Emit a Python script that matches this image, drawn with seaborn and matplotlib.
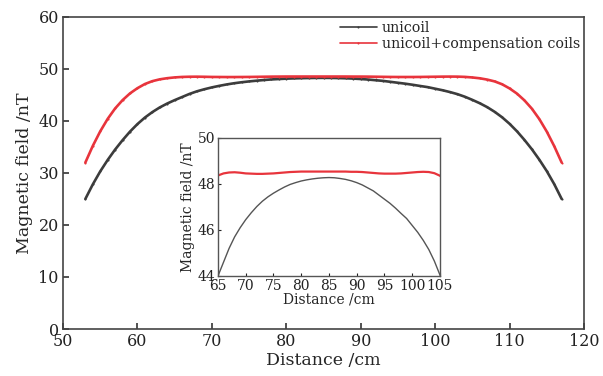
import numpy as np
import pandas as pd
import matplotlib
matplotlib.use("Agg")
import matplotlib.pyplot as plt
import seaborn as sns

# Data
distance = [53, 54, 55, 56, 57, 58, 59, 60, 61, 62, 63, 64, 65, 66, 67, 68, 69, 70,
            71, 72, 73, 74, 75, 76, 77, 78, 79, 80, 81, 82, 83, 84, 85,
            86, 87, 88, 89, 90, 91, 92, 93, 94, 95, 96, 97, 98, 99, 100,
            101, 102, 103, 104, 105, 106, 107, 108, 109, 110, 111, 112, 113, 114, 115, 116, 117]
unicoil = [25.0, 27.8, 30.3, 32.5, 34.5, 36.3, 37.95, 39.4, 40.65, 41.7, 42.6, 43.35, 44.0, 44.6, 45.2, 45.7, 46.1, 46.45,
           46.75, 47.02, 47.25, 47.44, 47.6, 47.74, 47.87, 47.98, 48.06, 48.13, 48.18, 48.22, 48.25, 48.27, 48.28,
           48.27, 48.24, 48.2, 48.14, 48.06, 47.96, 47.83, 47.7, 47.52, 47.34, 47.16, 46.95, 46.72, 46.5, 46.2,
           45.9, 45.55, 45.15, 44.65, 44.05, 43.4, 42.65, 41.75, 40.7, 39.45, 38.0, 36.35, 34.55, 32.55, 30.35, 27.85, 25.0]
compensated = [32.0, 35.2, 38.0, 40.4, 42.4, 44.0, 45.3, 46.3, 47.1, 47.65, 48.0, 48.22, 48.37, 48.46, 48.5, 48.51, 48.49, 48.46,
               48.45, 48.44, 48.44, 48.45, 48.46, 48.48, 48.5, 48.52, 48.53, 48.54, 48.54, 48.54, 48.54, 48.54, 48.54,
               48.54, 48.54, 48.54, 48.53, 48.53, 48.52, 48.5, 48.48, 48.46, 48.45, 48.45, 48.45, 48.46, 48.48, 48.5,
               48.52, 48.53, 48.52, 48.47, 48.36, 48.2, 47.95, 47.6, 47.05, 46.25, 45.25, 43.95, 42.35, 40.35, 37.95, 35.15, 32.0]
labels = ["unicoil", "unicoil+compensation coils"]
colors = ["#3c3c3c", "#e8343c"]

df = pd.DataFrame({
    "Distance": distance * 2,
    "Field": unicoil + compensated,
    "Series": [labels[0]] * len(distance) + [labels[1]] * len(distance),
})

sns.set_theme(style="ticks")
plt.rcParams["font.family"] = ["DejaVu Serif"]
plt.rcParams["mathtext.fontset"] = "dejavuserif"

fig = plt.figure(figsize=(6.03, 3.76), dpi=100)
ax = fig.add_axes([0.1045, 0.125, 0.864, 0.830])

sns.lineplot(data=df, x="Distance", y="Field", hue="Series", palette=colors,
             marker=".", markersize=3, markeredgewidth=0, linewidth=1.9, ax=ax)
ax.set_xlim(50, 120)
ax.set_ylim(0, 60)
ax.set_xticks(range(50, 121, 10))
ax.set_yticks(range(0, 61, 10))
ax.set_xlabel("Distance /cm", fontsize=12.5, labelpad=1)
ax.set_ylabel("Magnetic field /nT", fontsize=12.5, labelpad=4)
ax.tick_params(direction="in", length=4, width=1.1, labelsize=11.5, colors="#222222", pad=3)
for s in ax.spines.values():
    s.set_linewidth(1.2)
    s.set_color("#444444")

handles, lbls = ax.get_legend_handles_labels()
for h in handles:
    h.set_markevery([1])
    h.set_linewidth(1.2)
leg = ax.legend(handles, lbls, loc="upper right", frameon=False, fontsize=10.3,
                handlelength=2.6, handletextpad=0.35, labelspacing=0.12,
                borderaxespad=0.0, borderpad=0.2, bbox_to_anchor=(0.998, 0.995))

# Inset
axi = fig.add_axes([0.3615, 0.266, 0.368, 0.367])
sns.lineplot(data=df[df["Series"] == labels[1]], x="Distance", y="Field", color=colors[1],
             linewidth=1.6, legend=False, ax=axi)
sns.lineplot(data=df[df["Series"] == labels[0]], x="Distance", y="Field", color="#555555",
             linewidth=1.0, legend=False, ax=axi)
axi.set_xlim(65, 105)
axi.set_ylim(44, 50)
axi.set_xticks(range(65, 106, 5))
axi.set_yticks(range(44, 51, 2))
axi.set_xlabel("Distance /cm", fontsize=10, labelpad=0)
axi.set_ylabel("Magnetic field /nT", fontsize=10, labelpad=2)
axi.tick_params(direction="in", length=2, width=0.8, labelsize=10, colors="#222222", pad=2)
for s in axi.spines.values():
    s.set_linewidth(1.0)
    s.set_color("#555555")

fig.savefig("out.png", dpi=100)
